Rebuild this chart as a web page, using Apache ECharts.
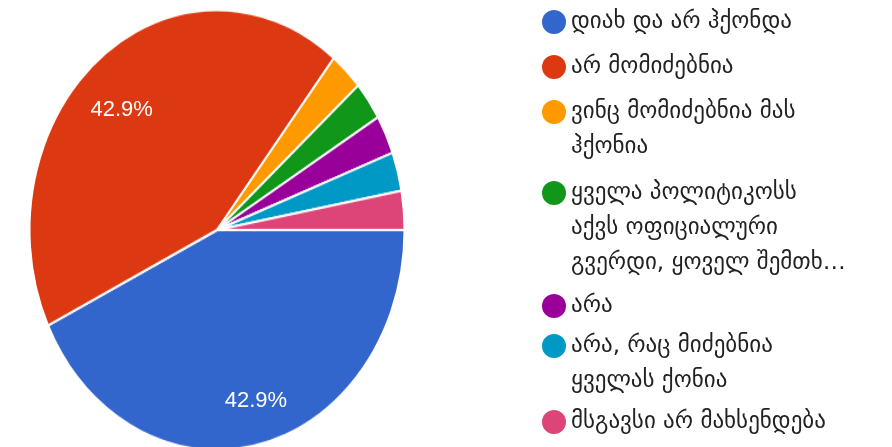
<!DOCTYPE html>
<html>
<head>
<meta charset="utf-8">
<script src="https://cdn.jsdelivr.net/npm/echarts@6/dist/echarts.min.js"></script>
<style>
  html, body { margin: 0; padding: 0; background: #ffffff; overflow: hidden; width: 892px; height: 447px; }
  #pie, #overlay { position: absolute; left: 0; top: 0; width: 892px; height: 447px; }
  /* the pie is drawn as an ellipse: stretched vertically about its centre */
  #pie { transform: scaleY(1.173); transform-origin: 217px 230px; }
</style>
</head>
<body>
<div id="pie"></div>
<div id="overlay"></div>
<script>
// answers (legend order = slice order)
const answers = [
  'დიახ და არ ჰქონდა',
  'არ მომიძებნია',
  'ვინც მომიძებნია მას\nჰქონია',
  'ყველა პოლიტიკოსს\nაქვს ოფიციალური\nგვერდი, ყოველ შემთხ…',
  'არა',
  'არა, რაც მიძებნია\nყველას ქონია',
  'მსგავსი არ მახსენდება'
];
// number of responses per answer
const responses = [15, 15, 1, 1, 1, 1, 1];
const sliceColors = ['#3366cc', '#dc3912', '#ff9900', '#109618', '#990099', '#0099c6', '#dd4477'];

// layout
const CX = 217, CY = 230, R = 187.5;
const LINE = 35;                                   // legend line height
const rowY = [22, 67, 112, 193, 306, 346, 422];    // centre of each legend entry's first line

const total = responses.reduce((a, b) => a + b, 0);
const pct = v => (v / total * 100).toFixed(1) + '%';

const pie = echarts.init(document.getElementById('pie'));
pie.setOption({
  animation: false,
  series: [{
    type: 'pie',
    center: [CX, CY],
    radius: R,
    startAngle: 0,
    clockwise: true,
    silent: true,
    label: { show: false },
    labelLine: { show: false },
    itemStyle: { borderColor: '#ffffff', borderWidth: 2 },
    data: answers.map((name, i) => ({ name, value: responses[i], itemStyle: { color: sliceColors[i] } }))
  }]
});

// transparent ring that only carries the percentage label of one slice
function labelRing(inner, outer, sliceIndex) {
  return {
    type: 'pie',
    center: [CX, CY],
    radius: [inner, outer],
    startAngle: 0,
    clockwise: true,
    silent: true,
    avoidLabelOverlap: false,
    itemStyle: { color: 'rgba(0,0,0,0)', borderWidth: 0 },
    label: {
      position: 'inside',
      formatter: p => (p.dataIndex === sliceIndex ? pct(p.value) : ''),
      color: '#ffffff',
      fontSize: 22,
      fontFamily: 'Liberation Sans, Arial, sans-serif'
    },
    labelLine: { show: false },
    data: answers.map((name, i) => ({ name, value: responses[i] }))
  };
}

// percentage labels and legend, drawn unstretched on top of the pie
const overlay = echarts.init(document.getElementById('overlay'));
overlay.setOption({
  animation: false,
  legend: answers.map((name, i) => {
    const n = name.split('\n').length;
    return {
      orient: 'vertical',
      left: 542,
      top: rowY[i] - (n - 1) * LINE - LINE / 2,
      padding: 0,
      icon: 'circle',
      itemWidth: 24,
      itemHeight: 24,
      itemGap: 0,
      selectedMode: false,
      data: [{ name, itemStyle: { color: sliceColors[i] } }],
      // leading empty lines keep the marker level with the first text line
      formatter: label => '\n'.repeat(n - 1) + label,
      textStyle: {
        fontFamily: 'DejaVu Sans',
        fontSize: 23,
        color: '#222222',
        lineHeight: LINE
      }
    };
  }),
  series: [labelRing(152, 192, 0), labelRing(130, 170, 1)]
});
</script>
</body>
</html>
